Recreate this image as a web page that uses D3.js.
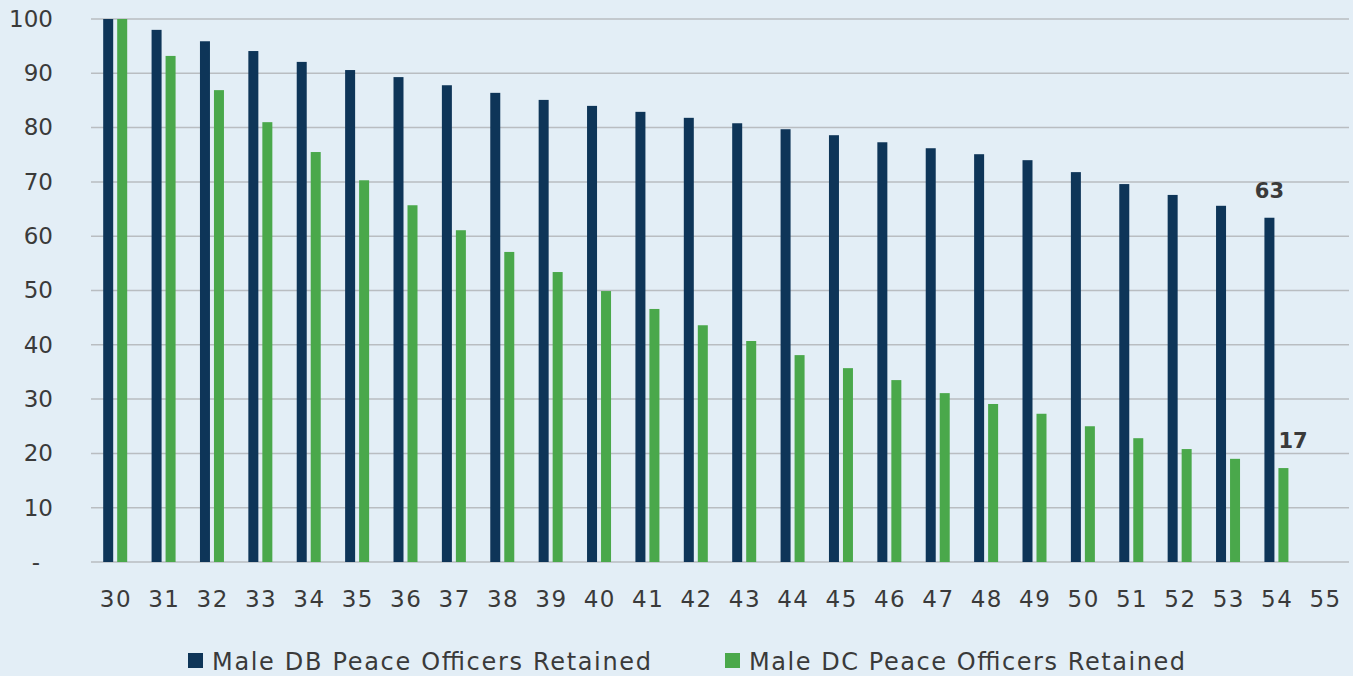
<!DOCTYPE html>
<html>
<head>
<meta charset="utf-8">
<script src="https://cdn.jsdelivr.net/npm/d3@7"></script>
<style>
  html, body { margin: 0; padding: 0; background: #e3eef6; }
  svg { display: block; }
  text { font-family: "DejaVu Sans", sans-serif; fill: #3a3a3a; }
</style>
</head>
<body>
<svg id="chart" width="1353" height="676"></svg>
<script>
// Age at which the officer leaves, 30 through 55
const ages = ["30","31","32","33","34","35","36","37","38","39","40","41","42","43","44","45","46","47","48","49","50","51","52","53","54","55"];

// Share of the benefit retained (%), by leaving age; no value for 55
const dbRetained = [100, 98.0, 95.9, 94.1, 92.1, 90.6, 89.3, 87.8, 86.4, 85.1, 84.0, 82.9, 81.8, 80.8, 79.7, 78.6, 77.3, 76.2, 75.1, 74.0, 71.8, 69.6, 67.6, 65.6, 63.4, null];
const dcRetained = [100, 93.2, 86.9, 81.0, 75.5, 70.3, 65.7, 61.1, 57.1, 53.4, 49.9, 46.6, 43.6, 40.7, 38.1, 35.7, 33.5, 31.1, 29.1, 27.3, 25.0, 22.8, 20.8, 19.0, 17.3, null];

const seriesNames = ["Male DB Peace Officers Retained", "Male DC Peace Officers Retained"];
const seriesColors = ["#0e3558", "#4aa84b"];
const yTicks = [0, 10, 20, 30, 40, 50, 60, 70, 80, 90, 100];

(function draw() {
  const svg = d3.select("#chart");
  const mLeft = 91, mRight = 1349, mTop = 19, mBottom = 562;

  const x = d3.scaleBand().domain(ages).range([mLeft, mRight]);
  const y = d3.scaleLinear().domain([0, 100]).range([mBottom, mTop]);

  // horizontal grid
  svg.append("g").selectAll("line").data(yTicks).join("line")
    .attr("x1", mLeft).attr("x2", mRight)
    .attr("y1", d => y(d)).attr("y2", d => y(d))
    .attr("stroke", "#b9bdc1").attr("stroke-width", 1.5);

  // y-axis labels
  const yAxis = svg.append("g").attr("transform", "translate(53,0)")
    .call(d3.axisLeft(y).tickValues(yTicks).tickSize(0).tickPadding(0)
      .tickFormat(d => d === 0 ? "-" : d));
  yAxis.select(".domain").remove();
  yAxis.selectAll("text").attr("font-size", 23).attr("fill", "#3a3a3a")
    .attr("font-family", "DejaVu Sans, sans-serif")
    .attr("dx", d => d === 0 ? -13 : 0);

  // x-axis labels
  const xAxis = svg.append("g").attr("transform", `translate(0,${mBottom})`)
    .call(d3.axisBottom(x).tickSize(0).tickPadding(29));
  xAxis.select(".domain").remove();
  xAxis.selectAll("text").attr("font-size", 23).attr("fill", "#3a3a3a")
    .attr("font-family", "DejaVu Sans, sans-serif")
    .attr("letter-spacing", 1.5).attr("dx", 0.75);

  // bars
  const barW = 10, gap = 4;
  [dbRetained, dcRetained].forEach((vals, si) => {
    svg.append("g").selectAll("rect")
      .data(ages.map((a, i) => ({ age: a, v: vals[i] })).filter(d => d.v != null))
      .join("rect")
      .attr("x", d => x(d.age) + x.bandwidth() / 2 - barW - gap / 2 + si * (barW + gap))
      .attr("width", barW)
      .attr("y", d => y(d.v))
      .attr("height", d => y(0) - y(d.v))
      .attr("fill", seriesColors[si]);
  });

  // value labels on the final age
  const last = ages.length - 2;
  svg.append("text")
    .attr("x", x(ages[last]) + x.bandwidth() / 2 - gap / 2 - barW / 2)
    .attr("y", y(dbRetained[last]) - 20)
    .attr("text-anchor", "middle")
    .attr("font-size", 21).attr("font-weight", "bold")
    .text(Math.round(dbRetained[last]));
  svg.append("text")
    .attr("x", x(ages[last]) + x.bandwidth() / 2 + gap / 2)
    .attr("y", y(dcRetained[last]) - 20)
    .attr("text-anchor", "start")
    .attr("font-size", 21).attr("font-weight", "bold")
    .text(Math.round(dcRetained[last]));

  // legend
  const legendX = [188, 725];
  const legendW = [439, 436];
  const legend = svg.append("g");
  seriesNames.forEach((name, i) => {
    legend.append("rect")
      .attr("x", legendX[i]).attr("y", 653)
      .attr("width", 15).attr("height", 15)
      .attr("fill", seriesColors[i]);
    legend.append("text")
      .attr("x", legendX[i] + 24).attr("y", 670)
      .attr("font-size", 24)
      .attr("textLength", legendW[i])
      .attr("lengthAdjust", "spacing")
      .text(name);
  });
})();
</script>
</body>
</html>
